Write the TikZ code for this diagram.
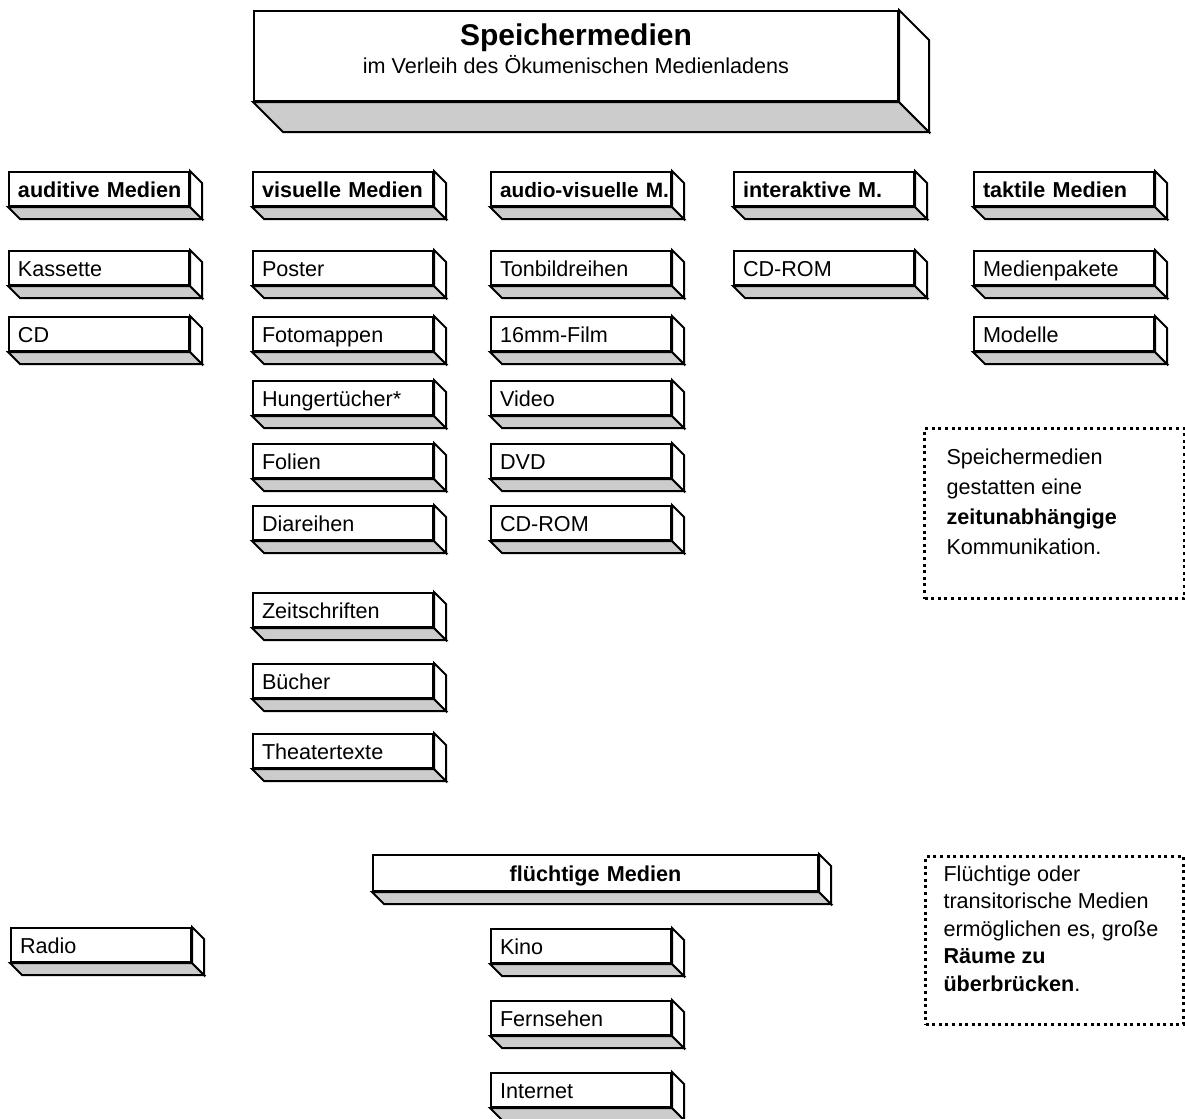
\documentclass[tikz,border=0pt]{standalone}
\usepackage{fontspec}
\setmainfont{Liberation Sans}
\usepackage{xcolor}
\usepackage{tikz}

\definecolor{slabgrey}{RGB}{204,204,204}
\newcommand{\boxfont}{\fontsize{10.8}{13}\selectfont}
\newcommand{\notefont}{\fontsize{10.8}{15}\selectfont}

% depth faces of a box: grey bottom, white right side
\newcommand{\slab}[2][12]{%
  \draw[line width=1pt, fill=slabgrey] (#2.south west) -- ++(#1,#1)
    -- ([shift={(#1,#1)}]#2.south east) -- (#2.south east) -- cycle;
  \draw[line width=1pt, fill=white] (#2.north east) -- ++(#1,#1)
    -- ([shift={(#1,#1)}]#2.south east) -- (#2.south east) -- cycle;
}

\begin{document}
\begin{tikzpicture}[x=0.5pt, y=-0.5pt,
  medbox/.style={draw, line width=1pt, fill=white, anchor=north west,
    minimum width=90pt, minimum height=17pt, text width=81pt,
    inner xsep=4.5pt, inner ysep=0pt, text height=8pt, text depth=0pt,
    align=left, font=\boxfont},
  headbox/.style={medbox, font=\boxfont\bfseries},
  notebox/.style={draw, line width=1.5pt, dash pattern=on 1.5pt off 1.8pt,
    anchor=north west, inner sep=0pt}]
\useasboundingbox (0,0) rectangle (1185,1119);

\node[draw, line width=1pt, fill=white, anchor=north west, minimum width=322pt,
  minimum height=45pt, text depth=7pt, align=center,
  font=\fontsize{10.8}{14}\selectfont] (title) at (253,10)
  {{\fontsize{15}{18}\selectfont\bfseries Speichermedien}\\im Verleih des Ökumenischen Medienladens};
\slab[30]{title}

% headings
\node[headbox] (aud) at (8,171) {\mbox{auditive Medien}};
\node[headbox] (vis) at (252,171) {\mbox{visuelle Medien}};
\node[headbox] (av) at (490,171) {\mbox{\fontsize{10.4}{13}\selectfont audio-visuelle M.}};
\node[headbox] (inter) at (733,171) {\mbox{interaktive M.}};
\node[headbox] (takt) at (973,171) {\mbox{taktile Medien}};

% auditive
\node[medbox] (kassette) at (8,250) {Kassette};
\node[medbox] (cd) at (8,316) {CD};

% visuelle
\node[medbox] (poster) at (252,250) {Poster};
\node[medbox] (foto) at (252,316) {Fotomappen};
\node[medbox] (hunger) at (252,380) {Hungertücher*};
\node[medbox] (folien) at (252,443) {Folien};
\node[medbox] (dia) at (252,505) {Diareihen};
\node[medbox] (zeit) at (252,592) {Zeitschriften};
\node[medbox] (buch) at (252,663) {Bücher};
\node[medbox] (theater) at (252,733) {Theatertexte};

% audio-visuelle
\node[medbox] (tonbild) at (490,250) {Tonbildreihen};
\node[medbox] (film) at (490,316) {16mm-Film};
\node[medbox] (video) at (490,380) {Video};
\node[medbox] (dvd) at (490,443) {DVD};
\node[medbox] (cdromav) at (490,505) {CD-ROM};

% interaktive, taktile
\node[medbox] (cdromint) at (733,250) {CD-ROM};
\node[medbox] (pakete) at (973,250) {Medienpakete};
\node[medbox] (modelle) at (973,316) {Modelle};

% fluechtige Medien
\node[headbox, minimum width=222.5pt, text width=213.5pt, align=center,
  minimum height=18pt] (fluechtig) at (372,854) {flüchtige Medien};
\node[medbox] (radio) at (10,927) {Radio};
\node[medbox] (kino) at (490,928) {Kino};
\node[medbox] (fernsehen) at (490,1000) {Fernsehen};
\node[medbox] (internet) at (490,1072) {Internet};

\foreach \n in {aud,vis,av,inter,takt,kassette,cd,poster,foto,hunger,folien,dia,
  zeit,buch,theater,tonbild,film,video,dvd,cdromav,cdromint,pakete,modelle,
  fluechtig,radio,kino,fernsehen,internet}
  {\slab{\n}}

% notes
\node[notebox, inner xsep=11pt, inner ysep=10pt] (speicher) at (923,427)
  {\parbox[c][65pt][t]{108pt}{\raggedright\notefont Speichermedien\\gestatten eine\\\textbf{zeitunabhängige}\\Kommunikation.}};
\node[notebox, inner xsep=9pt, inner ysep=4.5pt] (transit) at (924,855)
  {\parbox[c][75pt][t]{111pt}{\raggedright\fontsize{10.8}{13.75}\selectfont Flüchtige oder\\transitorische Medien\\ermöglichen es, große\\\textbf{Räume zu}\\\textbf{überbrücken}.}};
\end{tikzpicture}
\end{document}
